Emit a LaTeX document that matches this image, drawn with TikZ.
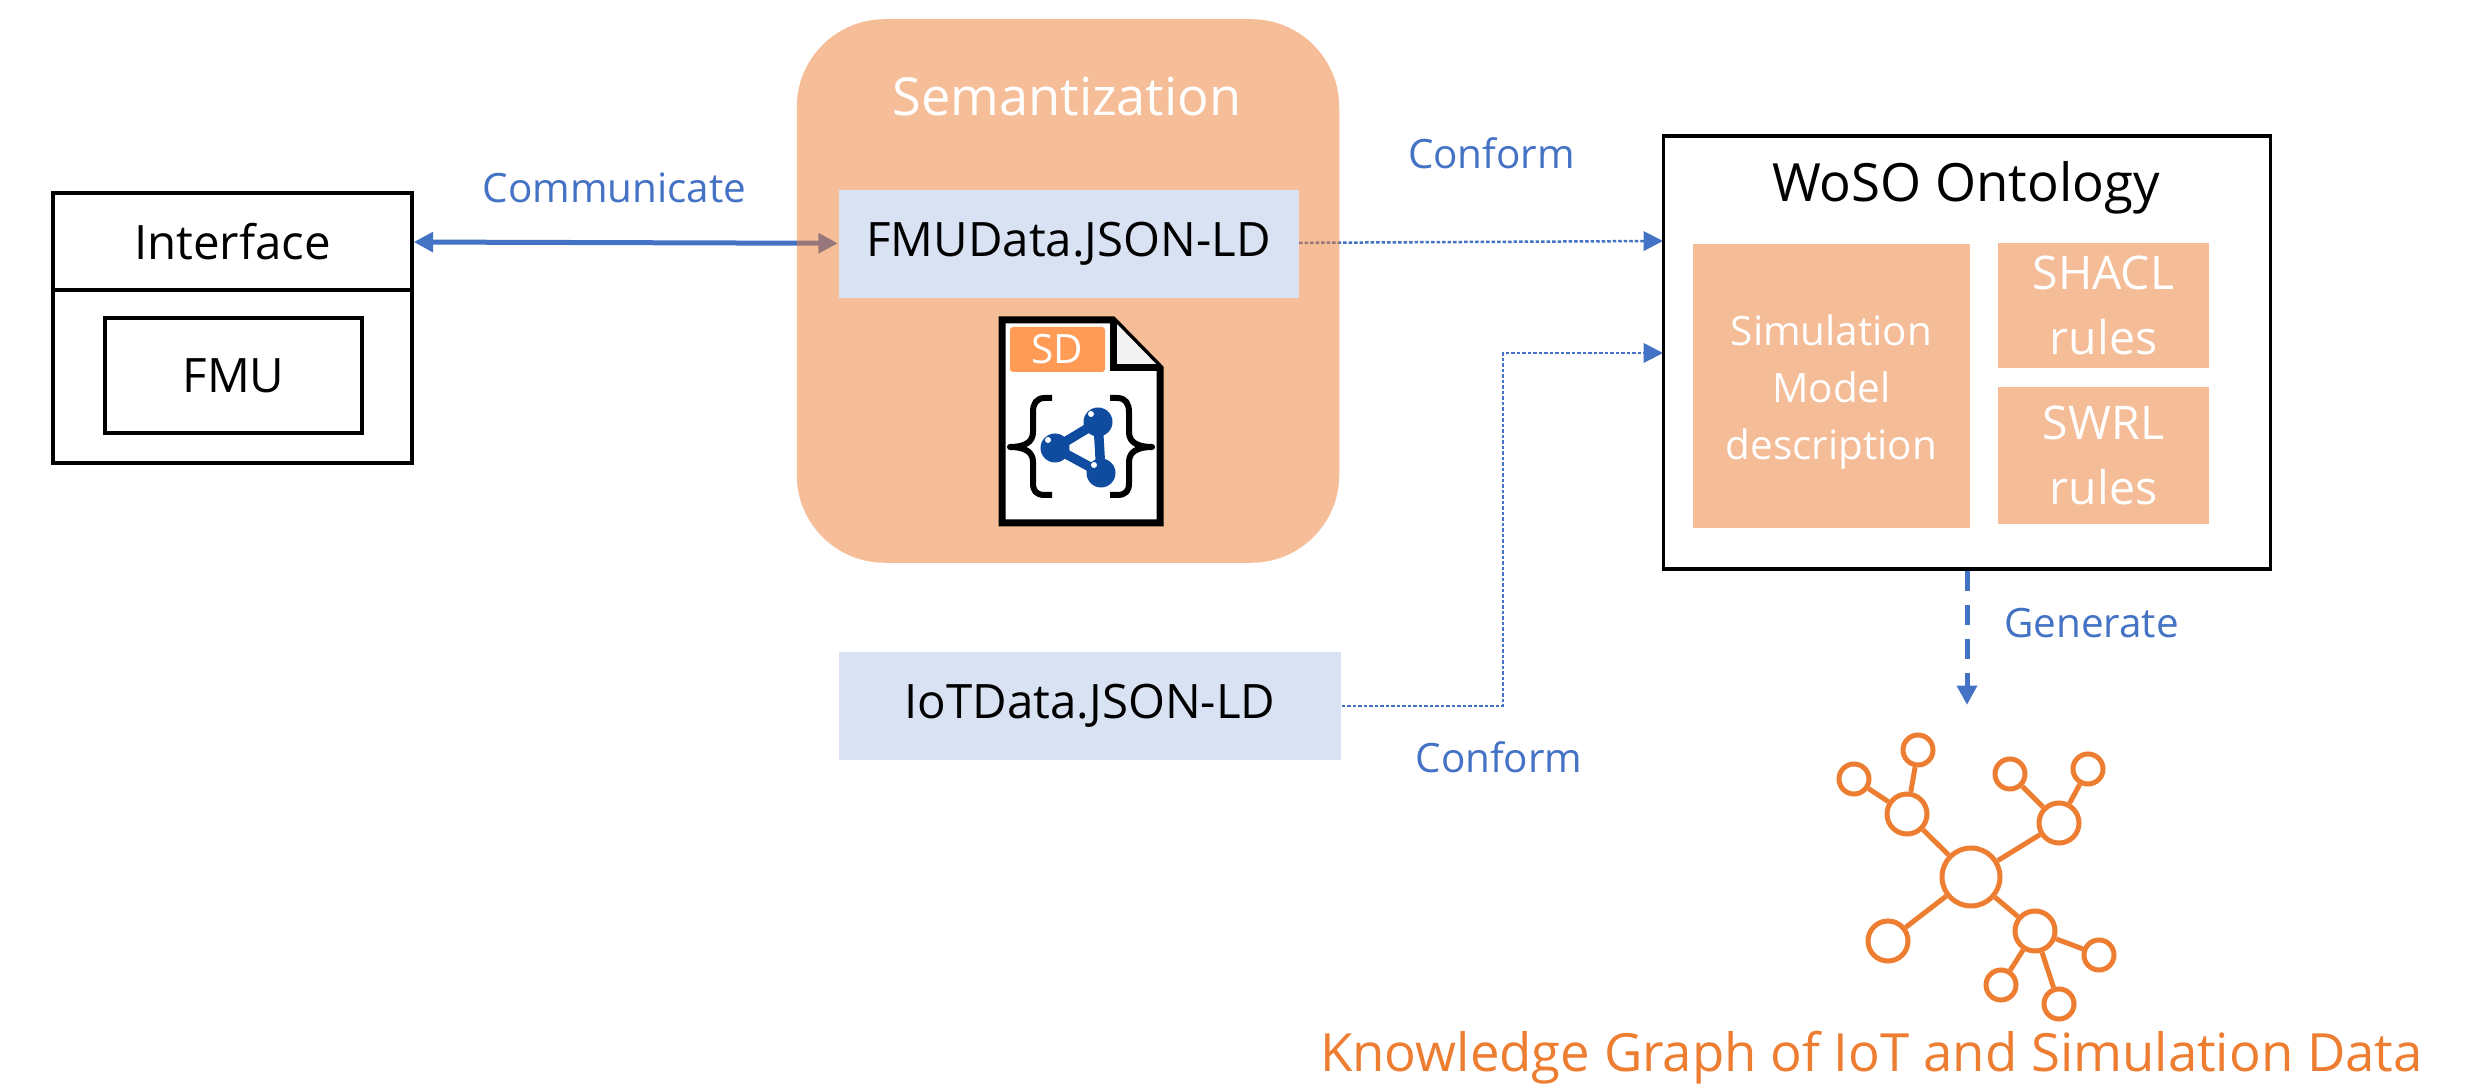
\documentclass[tikz,border=0pt]{standalone}
\usepackage{fontspec}
\setmainfont{Open Sans}
\usetikzlibrary{arrows.meta,backgrounds}
\definecolor{flowblue}{HTML}{4472C4}
\definecolor{paleblue}{HTML}{D9E2F3}
\definecolor{kgorange}{HTML}{ED7D31}
\definecolor{softorange}{HTML}{F4BC97}
\definecolor{tagorange}{HTML}{FF9B55}
\definecolor{molblue}{HTML}{0F4B9E}
\newcommand{\fsz}[2]{\fontsize{#1}{#2}\selectfont}

\begin{document}
\begin{tikzpicture}[>={Triangle[length=5.5pt,width=5.5pt]}]
    \tikzstyle{rec}=[draw=black,line width=0.035cm,rectangle,inner sep=0pt,font=\fsz{13.5}{16}]
    \tikzstyle{databox}=[fill=paleblue,rectangle,inner sep=0pt,font=\fsz{13.5}{16}]
    \tikzstyle{rulebox}=[fill=softorange,text=white,rectangle,inner sep=0pt,align=center]
    \tikzstyle{lbl}=[text=flowblue,inner sep=0pt,font=\fsz{11.5}{14}]
    \tikzstyle{plain}=[inner sep=0pt]
    \tikzstyle{thinflow}=[flowblue,line width=0.025cm,dash pattern=on 0.035cm off 0.02cm]
    \tikzstyle{brace}=[line width=0.06cm,line join=round]
    \tikzstyle{ball}=[circle,fill=molblue,minimum size=0.29cm,inner sep=0pt]
    \tikzstyle{gnode}=[circle,draw=kgorange,line width=0.05cm,fill=white,inner sep=0pt]
    \useasboundingbox (0,0) rectangle (24.87,10.88);

    % left part
    \node[rec, minimum width=3.59cm, minimum height=0.97cm] (iface) at (2.325,8.465) {Interface};
    \node[rec, minimum width=3.59cm, minimum height=1.73cm] (ifacebody) at (2.325,7.115) {};
    \node[rec, minimum width=2.57cm, minimum height=1.15cm] (fmu) at (2.335,7.125) {FMU};

    % semantization
    \node[rectangle, fill=kgorange, fill opacity=0.5, rounded corners=0.88cm, minimum width=5.425cm, minimum height=5.436cm] (sem) at (10.68,7.97) {};
    \node[plain, text=white, font=\fsz{14.9}{18}] (semtitle) at (10.67,9.91) {Semantization};
    \node[databox, minimum width=4.60cm, minimum height=1.085cm] (fmudata) at (10.685,8.44) {FMUData.JSON-LD};
    \node[databox, minimum width=5.02cm, minimum height=1.08cm] (iotdata) at (10.90,3.82) {IoTData.JSON-LD};

    % sd document
    \draw[fill=white, line width=0.07cm, line join=miter] (10.02,7.68) -- (11.13,7.68) -- (11.60,7.20) -- (11.60,5.65) -- (10.02,5.65) -- cycle;
    \fill[black!5] (11.13,7.68) -- (11.60,7.20) -- (11.13,7.20) -- cycle;
    \draw[line width=0.07cm, line join=miter] (11.13,7.68) -- (11.13,7.20) -- (11.60,7.20);
    \node[rectangle, fill=tagorange, rounded corners=0.03cm, text=white, minimum width=0.95cm, minimum height=0.45cm, inner sep=0pt, font=\fsz{11.5}{14}] (sdtag) at (10.575,7.385) {SD};
    \draw[brace] (10.52,6.90) -- (10.45,6.90) .. controls (10.36,6.90) and (10.33,6.84) .. (10.33,6.76) -- (10.33,6.56) .. controls (10.33,6.46) and (10.25,6.41) .. (10.10,6.41) .. controls (10.25,6.41) and (10.33,6.36) .. (10.33,6.26) -- (10.33,6.05) .. controls (10.33,5.97) and (10.36,5.93) .. (10.45,5.93) -- (10.52,5.93);
    \draw[brace] (11.10,6.90) -- (11.17,6.90) .. controls (11.26,6.90) and (11.29,6.84) .. (11.29,6.76) -- (11.29,6.56) .. controls (11.29,6.46) and (11.37,6.41) .. (11.52,6.41) .. controls (11.37,6.41) and (11.29,6.36) .. (11.29,6.26) -- (11.29,6.05) .. controls (11.29,5.97) and (11.26,5.93) .. (11.17,5.93) -- (11.10,5.93);
    \node[ball] (molA) at (10.98,6.66) {};
    \node[ball] (molB) at (10.55,6.40) {};
    \node[ball] (molC) at (11.01,6.15) {};
    \draw[molblue, line width=0.095cm] (molA.center) -- (molB.center) -- (molC.center) -- cycle;
    \foreach \m in {molA,molB,molC}
        \fill[white] (\m.center) ++(-0.07,0.08) circle (0.03);

    % ontology
    \node[rec, minimum width=6.07cm, minimum height=4.33cm] (woso) at (19.67,7.357) {};
    \node[plain, font=\fsz{15}{18}] (wosotitle) at (19.66,9.00) {WoSO Ontology};
    \node[rulebox, minimum width=2.77cm, minimum height=2.845cm, font=\fsz{11.5}{16.2}] (simmodel) at (18.315,7.02) {\rule{0pt}{1.05em}Simulation\\Model\\description};
    \node[rulebox, minimum width=2.11cm, minimum height=1.245cm, font=\fsz{13.2}{18.5}] (shacl) at (21.035,7.823) {SHACL\\rules};
    \node[rulebox, minimum width=2.11cm, minimum height=1.373cm, font=\fsz{13.2}{18.5}] (swrl) at (21.035,6.327) {SWRL\\rules};

    \coordinate (wosoinA) at (16.63,8.47);
    \coordinate (wosoinB) at (16.63,7.35);
    \coordinate (elbowB) at (15.03,7.35);
    \coordinate (kgin) at (19.67,3.83);

    % connectors go under the translucent box
    \begin{scope}[on background layer]
        \draw[<->, flowblue, line width=0.05cm] (iface) to (fmudata);
        \draw[->, thinflow] (fmudata) to (wosoinA);
        \draw[->, thinflow] (iotdata.east) -- (elbowB |- iotdata.east) -- (elbowB) -- (wosoinB);
        \draw[->, flowblue, line width=0.05cm, dash pattern=on 0.2cm off 0.14cm] (woso) to (kgin);
    \end{scope}

    \node[lbl] (commlbl) at (6.145,9.00) {Communicate};
    \node[lbl] (conflblA) at (14.915,9.35) {Conform};
    \node[lbl] (conflblB) at (14.99,3.31) {Conform};
    \node[lbl] (genlbl) at (20.915,4.65) {Generate};

    % knowledge graph
    \node[gnode, minimum size=0.58cm] (hub) at (19.71,2.11) {};
    \foreach \n/\xx/\yy in {gA/19.07/2.74,gB/20.59/2.65,gC/20.35/1.57,gD/18.88/1.47}
        \node[gnode, minimum size=0.40cm] (\n) at (\xx,\yy) {};
    \foreach \n/\xx/\yy in {gE/19.18/3.38,gF/18.54/3.09,gG/20.10/3.14,gH/20.88/3.19,gI/20.99/1.33,gJ/20.01/1.03,gK/20.59/0.84}
        \node[gnode, minimum size=0.30cm] (\n) at (\xx,\yy) {};
    \foreach \from/\to in {hub/gA,hub/gB,hub/gC,hub/gD,gA/gE,gA/gF,gB/gG,gB/gH,gC/gI,gC/gJ,gC/gK}
        \draw[kgorange, line width=0.05cm] (\from) to (\to);
    \node[plain, text=kgorange, font=\fsz{15}{18}] (kgtitle) at (18.715,0.30) {Knowledge Graph of IoT and Simulation Data};
\end{tikzpicture}
\end{document}
